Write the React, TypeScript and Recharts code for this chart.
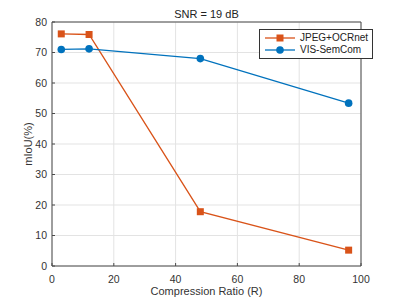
import { LineChart, Line, XAxis, YAxis, CartesianGrid, ReferenceLine } from 'recharts';

const ratios = [3, 12, 48, 96];
const jpegOcr = [76.1, 75.9, 17.8, 5.2];
const visSemCom = [71.0, 71.2, 68.0, 53.4];
const xTicks = [0, 20, 40, 60, 80, 100];
const yTicks = [0, 10, 20, 30, 40, 50, 60, 70, 80];

const data = ratios.map((r, i) => ({ ratio: r, jpeg: jpegOcr[i], vis: visSemCom[i] }));

const ORANGE = '#D95319';
const BLUE = '#0072BD';
const AXIS = '#4a4a4a';
const FONT = '"Liberation Sans", Arial, sans-serif';

const SquareDot = (props: any) => {
  const { cx, cy, index } = props;
  return <rect key={`sq-${index}`} x={cx - 3.5} y={cy - 3.5} width={7} height={7} fill={ORANGE} />;
};

const CircleDot = (props: any) => {
  const { cx, cy, index } = props;
  return <circle key={`c-${index}`} cx={cx} cy={cy} r={3.8} fill={BLUE} />;
};

const legendItems = [
  { name: 'JPEG+OCRnet', color: ORANGE, shape: 'square' },
  { name: 'VIS-SemCom', color: BLUE, shape: 'circle' },
];

const LegendBox = () => (
  <div
    style={{
      position: 'absolute',
      left: 259,
      top: 29,
      border: '1px solid #333',
      background: '#fff',
      padding: '2px 4px 2px 3px',
      fontFamily: FONT,
      fontSize: 10,
      color: '#222',
      lineHeight: '12px',
    }}
  >
    {legendItems.map((it) => (
      <div key={it.name} style={{ display: 'flex', alignItems: 'center' }}>
        <svg width={34} height={12} style={{ marginRight: 3 }}>
          <line x1={2} y1={6} x2={32} y2={6} stroke={it.color} strokeWidth={1.3} />
          {it.shape === 'square' ? (
            <rect x={13.5} y={2.5} width={7} height={7} fill={it.color} />
          ) : (
            <circle cx={17} cy={6} r={3.8} fill={it.color} />
          )}
        </svg>
        <span>{it.name}</span>
      </div>
    ))}
  </div>
);

export default function App() {
  return (
    <div style={{ position: 'absolute', left: 0, top: 0, width: 399, height: 299, background: '#fff' }}>
      <LineChart width={399} height={299} data={data} margin={{ top: 22, right: 38, bottom: 13, left: 12 }}>
        <CartesianGrid stroke="#e3e3e3" strokeWidth={1} />
        <XAxis
          dataKey="ratio"
          type="number"
          domain={[0, 100]}
          ticks={xTicks}
          height={20}
          tickSize={-3}
          tickMargin={13}
          stroke={AXIS}
          tick={{ fill: '#333', fontSize: 10.5, fontFamily: FONT }}
          label={{ value: 'Compression Ratio (R)', position: 'insideBottom', offset: -9, fill: '#333', fontSize: 11, fontFamily: FONT }}
        />
        <YAxis
          type="number"
          domain={[0, 80]}
          ticks={yTicks}
          width={40}
          tickSize={-3}
          tickMargin={8}
          stroke={AXIS}
          tick={{ fill: '#333', fontSize: 10.5, fontFamily: FONT }}
          label={{ value: 'mIoU(%)', angle: -90, position: 'insideLeft', offset: 16, fill: '#333', fontSize: 11, fontFamily: FONT, style: { textAnchor: 'middle' } }}
        />
        <ReferenceLine x={100} stroke={AXIS} strokeWidth={1} ifOverflow="visible" />
        <ReferenceLine y={80} stroke={AXIS} strokeWidth={1} ifOverflow="visible" />
        <Line
          dataKey="jpeg"
          name="JPEG+OCRnet"
          stroke={ORANGE}
          strokeWidth={1.3}
          dot={SquareDot}
          isAnimationActive={false}
        />
        <Line
          dataKey="vis"
          name="VIS-SemCom"
          stroke={BLUE}
          strokeWidth={1.3}
          dot={CircleDot}
          isAnimationActive={false}
        />
        <text x={206.5} y={18} textAnchor="middle" fontSize={11} fontFamily={FONT} fill="#222">
          SNR = 19 dB
        </text>
      </LineChart>
      <LegendBox />
    </div>
  );
}
